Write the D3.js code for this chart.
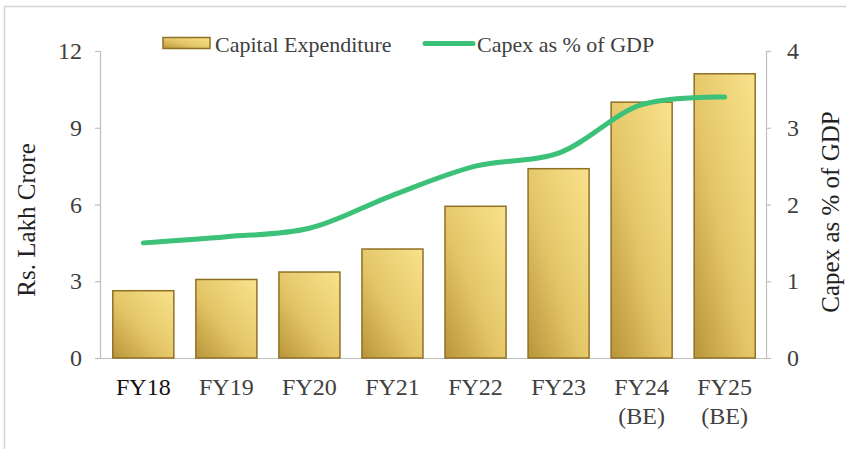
<!DOCTYPE html>
<html>
<head>
<meta charset="utf-8">
<script src="https://cdn.jsdelivr.net/npm/d3@7"></script>
<style>
  body { margin: 0; background: #fff; }
  svg { display: block; font-family: "Liberation Serif", "Times New Roman", serif; }
</style>
</head>
<body>
<svg width="846" height="449"></svg>
<script>
const categories = ["FY18", "FY19", "FY20", "FY21", "FY22", "FY23", "FY24\n(BE)", "FY25\n(BE)"];
const capex = [2.63, 3.07, 3.36, 4.26, 5.93, 7.4, 10.0, 11.11];
const capexPctGdp = [1.5, 1.58, 1.69, 2.12, 2.5, 2.67, 3.3, 3.4];
const leftTicks = [0, 3, 6, 9, 12];
const rightTicks = [0, 1, 2, 3, 4];

const svg = d3.select("svg"),
  width = +svg.attr("width"),
  height = +svg.attr("height");

const textColor = "#404040",
  axisColor = "#bfbfbf";

// gradient for the bars
const defs = svg.append("defs");
const grad = defs
  .append("linearGradient")
  .attr("id", "gold")
  .attr("x1", 0).attr("y1", 1)
  .attr("x2", 1).attr("y2", 0);
grad.append("stop").attr("offset", "0%").attr("stop-color", "#b9953a");
grad.append("stop").attr("offset", "45%").attr("stop-color", "#e4c668");
grad.append("stop").attr("offset", "100%").attr("stop-color", "#f9e28c");

// frame of the chart area
svg.append("path")
  .attr("d", "M4.5,449 V6.5 H846")
  .attr("fill", "none")
  .attr("stroke", "#d4d4d4")
  .attr("stroke-width", 1.5);

const x = d3.scaleBand().domain(categories).range([102, 766]).paddingInner(0.265).paddingOuter(0.13);
const y = d3.scaleLinear().domain([0, 12]).range([358, 51]);
const y2 = d3.scaleLinear().domain([0, 4]).range([358, 51]);

// left axis
const leftAxis = svg.append("g")
  .attr("transform", "translate(100,0)")
  .call(d3.axisLeft(y).tickValues(leftTicks).tickFormat(d3.format("d")).tickSize(5).tickPadding(13));
leftAxis.selectAll("text").attr("font-size", 24).attr("fill", textColor).attr("font-family", "Liberation Serif");

// right axis
const rightAxis = svg.append("g")
  .attr("transform", "translate(766,0)")
  .call(d3.axisRight(y2).tickValues(rightTicks).tickFormat(d3.format("d")).tickSize(5).tickPadding(16));
rightAxis.selectAll("text").attr("font-size", 24).attr("fill", textColor).attr("font-family", "Liberation Serif");

[leftAxis, rightAxis].forEach((a) => {
  a.selectAll("path, line").attr("stroke", axisColor).attr("stroke-width", 1.2);
  a.select(".domain").attr("d", a === leftAxis ? "M-5,51.5H0.5V358.5H-5" : "M5,51.5H0.5V358.5H5");
});

// category axis line
svg.append("line")
  .attr("x1", 100).attr("x2", 766)
  .attr("y1", 358.5).attr("y2", 358.5)
  .attr("stroke", axisColor).attr("stroke-width", 1.2);

// category labels
const xLabels = svg.append("g")
  .selectAll("text")
  .data(categories)
  .enter()
  .append("text")
  .attr("x", (d) => x(d) + x.bandwidth() / 2)
  .attr("y", 395)
  .attr("text-anchor", "middle")
  .attr("font-size", 24)
  .attr("fill", (d, i) => (i === 0 ? "#111" : textColor));
xLabels.each(function (d) {
  const lines = d.split("\n");
  d3.select(this)
    .selectAll("tspan")
    .data(lines)
    .enter()
    .append("tspan")
    .attr("x", x(d) + x.bandwidth() / 2)
    .attr("dy", (l, i) => (i === 0 ? 0 : 29))
    .text((l) => l);
});

// bars
svg.append("g")
  .selectAll("rect")
  .data(capex)
  .enter()
  .append("rect")
  .attr("x", (d, i) => x(categories[i]))
  .attr("y", (d) => y(d))
  .attr("width", x.bandwidth())
  .attr("height", (d) => y(0) - y(d))
  .attr("fill", "url(#gold)")
  .attr("stroke", "#8f7126")
  .attr("stroke-width", 1.5);

// smoothed line
const line = d3.line()
  .x((d, i) => x(categories[i]) + x.bandwidth() / 2)
  .y((d) => y2(d))
  .curve(d3.curveCatmullRom.alpha(0.5));

svg.append("path")
  .datum(capexPctGdp)
  .attr("d", line)
  .attr("fill", "none")
  .attr("stroke", "#3cc178")
  .attr("stroke-width", 5)
  .attr("stroke-linecap", "round");

// axis titles
svg.append("text")
  .attr("transform", "translate(35,220) rotate(-90)")
  .attr("text-anchor", "middle")
  .attr("font-size", 25)
  .attr("fill", "#222")
  .text("Rs. Lakh Crore");

svg.append("text")
  .attr("transform", "translate(839,212) rotate(-90)")
  .attr("text-anchor", "middle")
  .attr("font-size", 25)
  .attr("fill", "#222")
  .text("Capex as % of GDP");

// legend
const legend = svg.append("g");
legend.append("rect")
  .attr("x", 163).attr("y", 37.5)
  .attr("width", 47).attr("height", 11)
  .attr("fill", "url(#gold)")
  .attr("stroke", "#8f7126")
  .attr("stroke-width", 1.5);
legend.append("text")
  .attr("x", 215).attr("y", 52)
  .attr("font-size", 22)
  .attr("fill", textColor)
  .text("Capital Expenditure");
legend.append("line")
  .attr("x1", 425).attr("x2", 473)
  .attr("y1", 43.5).attr("y2", 43.5)
  .attr("stroke", "#3cc178")
  .attr("stroke-width", 5)
  .attr("stroke-linecap", "round");
legend.append("text")
  .attr("x", 477).attr("y", 52)
  .attr("font-size", 22)
  .attr("fill", textColor)
  .text("Capex as % of GDP");
</script>
</body>
</html>
